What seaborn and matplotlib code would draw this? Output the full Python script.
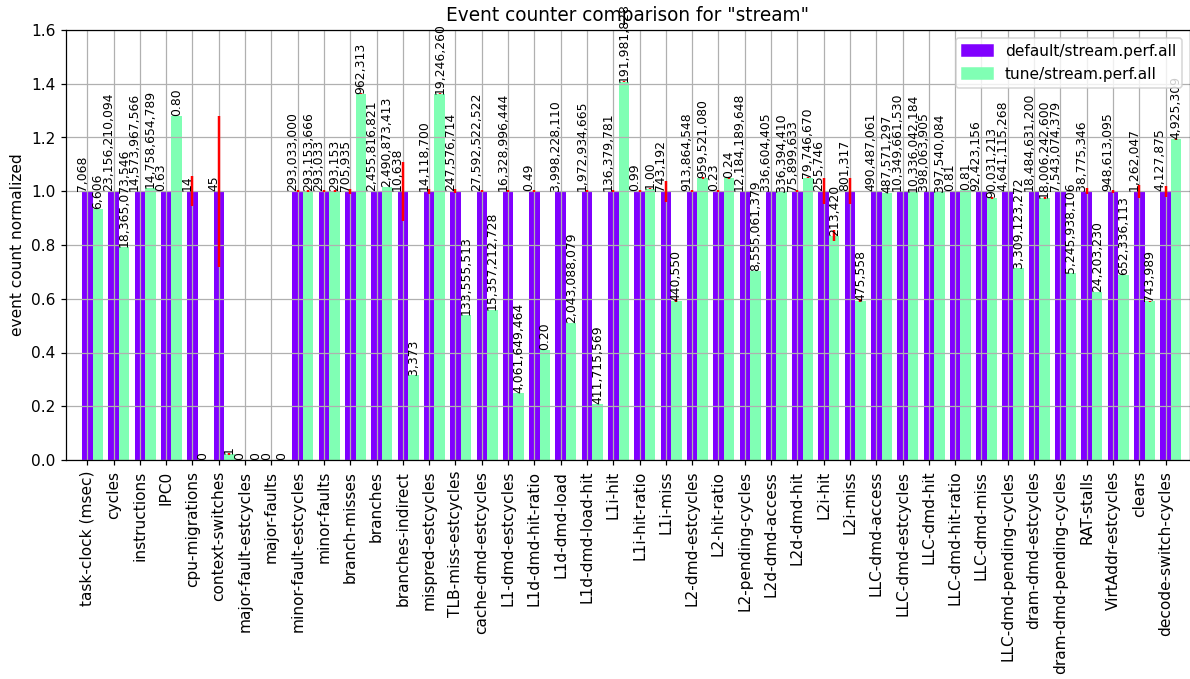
import numpy as np
import pandas as pd
import matplotlib
matplotlib.use("Agg")
import matplotlib.pyplot as plt
import matplotlib.patches as mpatches
import seaborn as sns

events = [
    "task-clock (msec)", "cycles", "instructions", "IPC0", "cpu-migrations",
    "context-switches", "major-fault-estcycles", "major-faults",
    "minor-fault-estcycles", "minor-faults", "branch-misses", "branches",
    "branches-indirect", "mispred-estcycles", "TLB-miss-estcycles",
    "cache-dmd-estcycles", "L1-dmd-estcycles", "L1d-dmd-hit-ratio",
    "L1d-dmd-load", "L1d-dmd-load-hit", "L1i-hit", "L1i-hit-ratio", "L1i-miss",
    "L2-dmd-estcycles", "L2-hit-ratio", "L2-pending-cycles", "L2d-dmd-access",
    "L2d-dmd-hit", "L2i-hit", "L2i-miss", "LLC-dmd-access", "LLC-dmd-estcycles",
    "LLC-dmd-hit", "LLC-dmd-hit-ratio", "LLC-dmd-miss", "LLC-dmd-pending-cycles",
    "dram-dmd-estcycles", "dram-dmd-pending-cycles", "RAT-stalls",
    "VirtAddr-estcycles", "clears", "decode-switch-cycles",
]

default_norm = [1, 1, 1, 1, 1, 1, 0, 0, 1, 1, 1, 1, 1, 1, 1, 1, 1, 1, 1, 1, 1,
                1, 1, 1, 1, 1, 1, 1, 1, 1, 1, 1, 1, 1, 1, 1, 1, 1, 1, 1, 1, 1]

tune_norm = [0.935, 0.793, 1.013, 1.28, 0.0, 0.022, 0.0, 0.0, 1.000, 1.000,
             1.363, 1.014, 0.317, 1.363, 0.539, 0.557, 0.249, 0.41, 0.511,
             0.209, 1.408, 1.01, 0.593, 1.05, 1.05, 0.702, 0.999, 1.051, 0.835,
             0.593, 0.994, 0.999, 0.999, 1.006, 0.974, 0.713, 0.974, 0.695,
             0.624, 0.688, 0.590, 1.193]

default_labels = [
    "7,068", "23,156,210,094", "14,573,967,566", "0.63", "14", "45", "0", "0",
    "293,033,000", "293,033", "705,935", "2,455,816,821", "10,638",
    "14,118,700", "247,576,714", "27,592,522,522", "16,328,996,444", "0.49",
    "3,998,228,110", "1,972,934,665", "136,379,781", "0.99", "743,192",
    "913,864,548", "0.23", "12,184,189,648", "336,604,405", "75,899,633",
    "255,746", "801,317", "490,487,061", "10,349,661,530", "398,063,905",
    "0.81", "92,423,156", "4,641,115,268", "18,484,631,200", "7,543,074,379",
    "38,775,346", "948,613,095", "1,262,047", "4,127,875",
]

tune_labels = [
    "6,606", "18,365,073,546", "14,758,654,789", "0.80", "0", "1", "0", "0",
    "293,153,666", "293,153", "962,313", "2,490,873,413", "3,373",
    "19,246,260", "133,555,513", "15,357,212,728", "4,061,649,464", "0.20",
    "2,043,088,079", "411,715,569", "191,981,828", "1.00", "440,550",
    "959,521,080", "0.24", "8,555,061,379", "336,394,410", "79,746,670",
    "213,420", "475,558", "487,571,297", "10,336,042,184", "397,540,084",
    "0.81", "90,031,213", "3,309,123,272", "18,006,242,600", "5,245,938,106",
    "24,203,230", "652,336,113", "743,989", "4,925,309",
]

default_err = [0.0, 0.0, 0.0, 0.0, 0.055, 0.28, 0.0, 0.0, 0.003, 0.003, 0.01,
               0.0, 0.11, 0.01, 0.008, 0.003, 0.003, 0.003, 0.0, 0.003, 0.003,
               0.003, 0.04, 0.003, 0.003, 0.0, 0.0, 0.003, 0.048, 0.048, 0.0,
               0.0, 0.0, 0.0, 0.0, 0.0, 0.0, 0.0, 0.012, 0.005, 0.025, 0.02]

tune_err = [0.0, 0.0, 0.0, 0.0, 0.0, 0.005, 0.0, 0.0, 0.003, 0.003, 0.002,
            0.0, 0.0, 0.002, 0.0, 0.0, 0.0, 0.0, 0.0, 0.0, 0.003, 0.003,
            0.005, 0.003, 0.003, 0.0, 0.0, 0.003, 0.02, 0.005, 0.0, 0.0, 0.0,
            0.003, 0.003, 0.0, 0.003, 0.0, 0.0, 0.0, 0.003, 0.003]

series_names = ["default/stream.perf.all", "tune/stream.perf.all"]
colors = ["#8000ff", "#80ffb4"]

n = len(events)
df = pd.DataFrame({
    "event": events * 2,
    "value": default_norm + tune_norm,
    "run": [series_names[0]] * n + [series_names[1]] * n,
})

DPI = 111
W, H = 1190, 679
fig = plt.figure(figsize=(W / DPI, H / DPI), dpi=DPI)
ax = fig.add_axes([66 / W, 1 - 460 / H, 1 - 66 / W, (460 - 30) / H])

sns.barplot(data=df, x="event", y="value", hue="run", order=events,
            hue_order=series_names, palette=colors, saturation=1, width=0.8,
            errorbar=None, linewidth=0, legend=False, ax=ax)

bars_default, bars_tune = ax.containers[0], ax.containers[1]

xs_def = [p.get_x() + p.get_width() / 2 for p in bars_default]
xs_tune = [p.get_x() + p.get_width() / 2 for p in bars_tune]
h_def = [p.get_height() for p in bars_default]
h_tune = [p.get_height() for p in bars_tune]

ax.errorbar(xs_def, h_def, yerr=default_err, fmt="none", ecolor="red",
            elinewidth=1.6, capsize=0, zorder=3)
ax.errorbar(xs_tune, h_tune, yerr=tune_err, fmt="none", ecolor="red",
            elinewidth=1.6, capsize=0, zorder=3)

for p, lab in zip(bars_default, default_labels):
    ax.text(p.get_x(), p.get_height(), lab, rotation=90, ha="center",
            va="bottom", fontsize=8)
for p, lab in zip(bars_tune, tune_labels):
    ax.text(p.get_x() + p.get_width() / 2, p.get_height(), lab, rotation=90,
            ha="center", va="bottom", fontsize=8)

ax.set_xticks(xs_def)
ax.set_xticklabels(events, rotation=90, fontsize=10)
ax.set_xlim(xs_def[0] - 0.81, xs_def[0] + 41.93)
ax.set_ylim(0, 1.6)
ax.set_yticks(np.arange(0, 1.61, 0.2))
ax.set_yticklabels([f"{v:.1f}" for v in np.arange(0, 1.61, 0.2)], fontsize=10)
ax.set_axisbelow("line")
ax.grid(True, color="#b0b0b0", linewidth=0.8)
ax.xaxis.grid(True)
ax.yaxis.grid(True)
ax.set_xlabel("")
ax.set_ylabel("event count normalized", fontsize=10)
ax.set_title('Event counter comparison for "stream"', fontsize=12)

handles = [mpatches.Patch(color=c, label=s) for c, s in zip(colors, series_names)]
ax.legend(handles=handles, loc="upper right", fontsize=10)

fig.savefig("out.png", dpi=DPI)
